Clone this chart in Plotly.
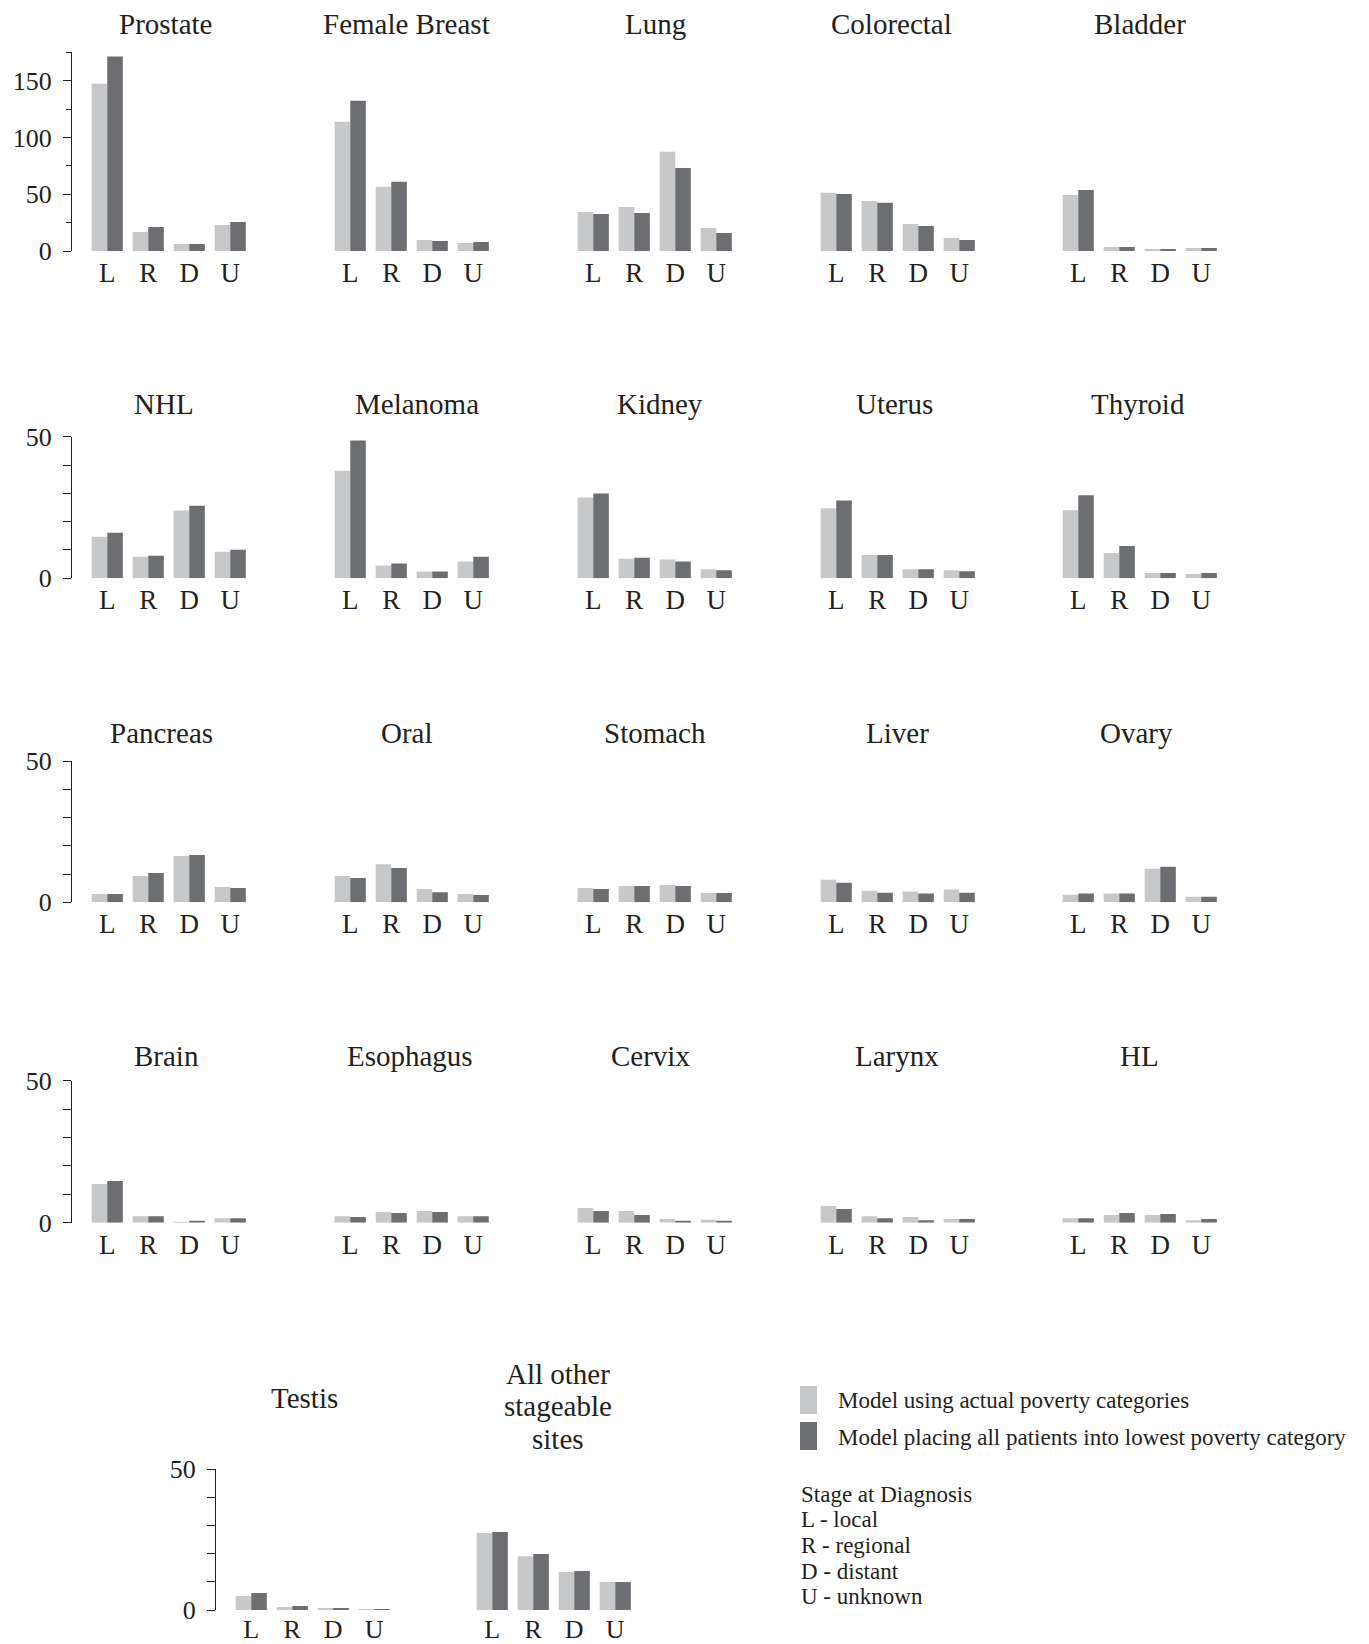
import plotly.graph_objects as go

# Stage at diagnosis categories
stages = ["L", "R", "D", "U"]

# Cases per site: "actual" = model using actual poverty categories,
# "lowest" = model placing all patients into lowest poverty category
prostate_actual = [147.4, 16.8, 6.2, 22.9]
prostate_lowest = [171.2, 21.2, 6.2, 25.6]
breast_actual = [113.8, 56.5, 9.7, 7.1]
breast_lowest = [132.4, 60.9, 8.8, 7.9]
lung_actual = [34.4, 38.8, 87.4, 20.3]
lung_lowest = [32.6, 33.5, 73.2, 15.9]
colorectal_actual = [51.2, 44.1, 23.8, 11.5]
colorectal_lowest = [50.3, 42.4, 22.1, 9.7]
bladder_actual = [49.4, 3.5, 1.8, 2.6]
bladder_lowest = [53.8, 3.5, 1.8, 2.6]

nhl_actual = [14.7, 7.6, 23.9, 9.4]
nhl_lowest = [16.1, 8.0, 25.6, 10.1]
melanoma_actual = [38.0, 4.5, 2.4, 5.9]
melanoma_lowest = [48.7, 5.2, 2.4, 7.6]
kidney_actual = [28.5, 6.9, 6.6, 3.2]
kidney_lowest = [29.9, 7.3, 5.9, 2.8]
uterus_actual = [24.7, 8.2, 3.2, 2.8]
uterus_lowest = [27.5, 8.2, 3.2, 2.5]
thyroid_actual = [24.0, 8.9, 1.9, 1.5]
thyroid_lowest = [29.3, 11.4, 1.9, 1.9]

pancreas_actual = [2.9, 9.3, 16.4, 5.4]
pancreas_lowest = [2.9, 10.4, 16.7, 5.1]
oral_actual = [9.3, 13.5, 4.7, 2.9]
oral_lowest = [8.6, 12.1, 3.6, 2.6]
stomach_actual = [5.1, 5.8, 6.1, 3.3]
stomach_lowest = [4.7, 5.8, 5.8, 3.3]
liver_actual = [8.0, 4.1, 3.8, 4.5]
liver_lowest = [6.9, 3.4, 3.1, 3.4]
ovary_actual = [2.7, 3.1, 11.9, 2.0]
ovary_lowest = [3.1, 3.1, 12.6, 2.0]

brain_actual = [13.6, 2.3, 0.3, 1.6]
brain_lowest = [14.7, 2.3, 0.4, 1.6]
esophagus_actual = [2.3, 3.8, 4.1, 2.3]
esophagus_lowest = [2.0, 3.4, 3.8, 2.3]
cervix_actual = [5.2, 4.1, 1.3, 1.0]
cervix_lowest = [4.1, 2.7, 0.7, 0.7]
larynx_actual = [5.9, 2.3, 2.0, 1.3]
larynx_lowest = [4.8, 1.6, 0.9, 1.3]
hl_actual = [1.6, 2.7, 2.7, 0.9]
hl_lowest = [1.6, 3.4, 3.1, 1.3]

testis_actual = [5.0, 1.1, 0.7, 0.1]
testis_lowest = [6.0, 1.4, 0.7, 0.1]
other_actual = [27.3, 19.1, 13.5, 9.9]
other_lowest = [27.7, 19.9, 13.8, 9.9]

series_names = ["Model using actual poverty categories",
                "Model placing all patients into lowest poverty category"]
stage_key = ["Stage at Diagnosis", "L - local", "R - regional", "D - distant", "U - unknown"]

# Panels: (title lines, actual, lowest, row, column, title x nudge in px)
panels = [
    (["Prostate"], prostate_actual, prostate_lowest, 0, 0, -3),
    (["Female Breast"], breast_actual, breast_lowest, 0, 1, -5),
    (["Lung"], lung_actual, lung_lowest, 0, 2, 1),
    (["Colorectal"], colorectal_actual, colorectal_lowest, 0, 3, -6),
    (["Bladder"], bladder_actual, bladder_lowest, 0, 4, 0),
    (["NHL"], nhl_actual, nhl_lowest, 1, 0, -5),
    (["Melanoma"], melanoma_actual, melanoma_lowest, 1, 1, 5),
    (["Kidney"], kidney_actual, kidney_lowest, 1, 2, 5),
    (["Uterus"], uterus_actual, uterus_lowest, 1, 3, -3),
    (["Thyroid"], thyroid_actual, thyroid_lowest, 1, 4, -2),
    (["Pancreas"], pancreas_actual, pancreas_lowest, 2, 0, -7),
    (["Oral"], oral_actual, oral_lowest, 2, 1, -5),
    (["Stomach"], stomach_actual, stomach_lowest, 2, 2, 0),
    (["Liver"], liver_actual, liver_lowest, 2, 3, 0),
    (["Ovary"], ovary_actual, ovary_lowest, 2, 4, -3),
    (["Brain"], brain_actual, brain_lowest, 3, 0, -2),
    (["Esophagus"], esophagus_actual, esophagus_lowest, 3, 1, -2),
    (["Cervix"], cervix_actual, cervix_lowest, 3, 2, -4),
    (["Larynx"], larynx_actual, larynx_lowest, 3, 3, -1),
    (["HL"], hl_actual, hl_lowest, 3, 4, 0),
    (["Testis"], testis_actual, testis_lowest, 4, 0, -8),
    (["All other", "stageable", "sites"], other_actual, other_lowest, 4, 1, 4),
]

W, H = 1369, 1644
FONT = "Liberation Serif"
INK = "#231f20"
LIGHT = "#c7c8ca"
DARK = "#6d6e71"

# Layout in pixels
col_left = [72, 315, 558, 801, 1043]
last_row_left = [216, 457]
panel_w = 193.5
# (zero line, top of axis, axis maximum, title centre)
rows = [
    (251.0, 52.3, 175, 24),
    (578.3, 436.7, 50, 403.5),
    (902.3, 761.0, 50, 733),
    (1222.7, 1080.7, 50, 1055.5),
    (1610.0, 1469.0, 50, None),
]
last_row_titles = [1398, 1406]
title_line_gap = 32.5


def px(x):
    return x / W


def py(y):
    return 1 - y / H


fig = go.Figure()
annotations = []

for i, (title, actual, lowest, r, c, nudge) in enumerate(panels):
    n = "" if i == 0 else str(i + 1)
    left = last_row_left[c] if r == 4 else col_left[c]
    zero, top, ymax, tcenter = rows[r]
    if r == 4:
        tcenter = last_row_titles[c]

    fig.add_trace(go.Bar(x=stages, y=actual, name=series_names[0],
                         marker=dict(color=LIGHT, line=dict(width=0)),
                         xaxis="x" + n, yaxis="y" + n, showlegend=False))
    fig.add_trace(go.Bar(x=stages, y=lowest, name=series_names[1],
                         marker=dict(color=DARK, line=dict(width=0)),
                         xaxis="x" + n, yaxis="y" + n, showlegend=False))

    xa = dict(domain=[px(left), px(left + panel_w)], anchor="y" + n,
              type="category", range=[-0.86, 3.86], showline=False,
              showgrid=False, zeroline=False, ticks="", automargin=False,
              tickfont=dict(family=FONT, size=27 if r < 4 else 26, color=INK),
              ticklabelstandoff=3 if r < 4 else 1, fixedrange=True)
    show_axis = c == 0
    if ymax == 175:
        major, minor = [0, 50, 100, 150], [25, 75, 125, 175]
        minor_len = 5
    else:
        major, minor = [0, 50], [10, 20, 30, 40]
        minor_len = 8
    ya = dict(domain=[py(zero), py(top)], anchor="x" + n,
              range=[0, ymax], showgrid=False, zeroline=False, automargin=False,
              visible=show_axis, showline=show_axis, linecolor=INK, linewidth=1.3,
              ticks="outside", ticklen=8, tickwidth=1.3, tickcolor=INK,
              tickvals=major, ticktext=[str(v) for v in major],
              minor=dict(tickvals=minor, ticks="outside", ticklen=minor_len,
                         tickwidth=1.3, tickcolor=INK),
              tickfont=dict(family=FONT, size=26, color=INK),
              ticklabelstandoff=6, fixedrange=True)
    fig.layout["xaxis" + n] = xa
    fig.layout["yaxis" + n] = ya

    # Panel title, one annotation per line, centred on tcenter
    first = tcenter - title_line_gap * (len(title) - 1) / 2
    for k, line in enumerate(title):
        annotations.append(dict(text=line, x=px(left + panel_w / 2 + nudge),
                                y=py(first + title_line_gap * k),
                                xref="paper", yref="paper", xanchor="center",
                                yanchor="middle", showarrow=False,
                                font=dict(family=FONT, size=29, color=INK)))

# Key: colour swatches and their labels
shapes = [
    dict(type="rect", xref="paper", yref="paper", x0=px(800), x1=px(817),
         y0=py(1414), y1=py(1386), fillcolor=LIGHT, line=dict(width=0)),
    dict(type="rect", xref="paper", yref="paper", x0=px(800), x1=px(817),
         y0=py(1450), y1=py(1422), fillcolor=DARK, line=dict(width=0)),
]
for label, yc in zip(series_names, [1400, 1437]):
    annotations.append(dict(text=label, x=px(836), y=py(yc), xref="paper",
                            yref="paper", xanchor="left", yanchor="middle",
                            showarrow=False,
                            font=dict(family=FONT, size=23, color=INK)))
for k, line in enumerate(stage_key):
    annotations.append(dict(text=line, x=px(799), y=py(1494 + 25.7 * k),
                            xref="paper", yref="paper", xanchor="left",
                            yanchor="middle", showarrow=False,
                            font=dict(family=FONT, size=23, color=INK)))

fig.update_layout(template="none", width=W, height=H, autosize=False,
                  margin=dict(l=0, r=0, t=0, b=0, pad=0),
                  paper_bgcolor="white", plot_bgcolor="white",
                  barmode="group", bargap=0.24, bargroupgap=0,
                  showlegend=False, annotations=annotations, shapes=shapes,
                  font=dict(family=FONT, color=INK))

fig.write_html("out.html", config={"displayModeBar": False})
